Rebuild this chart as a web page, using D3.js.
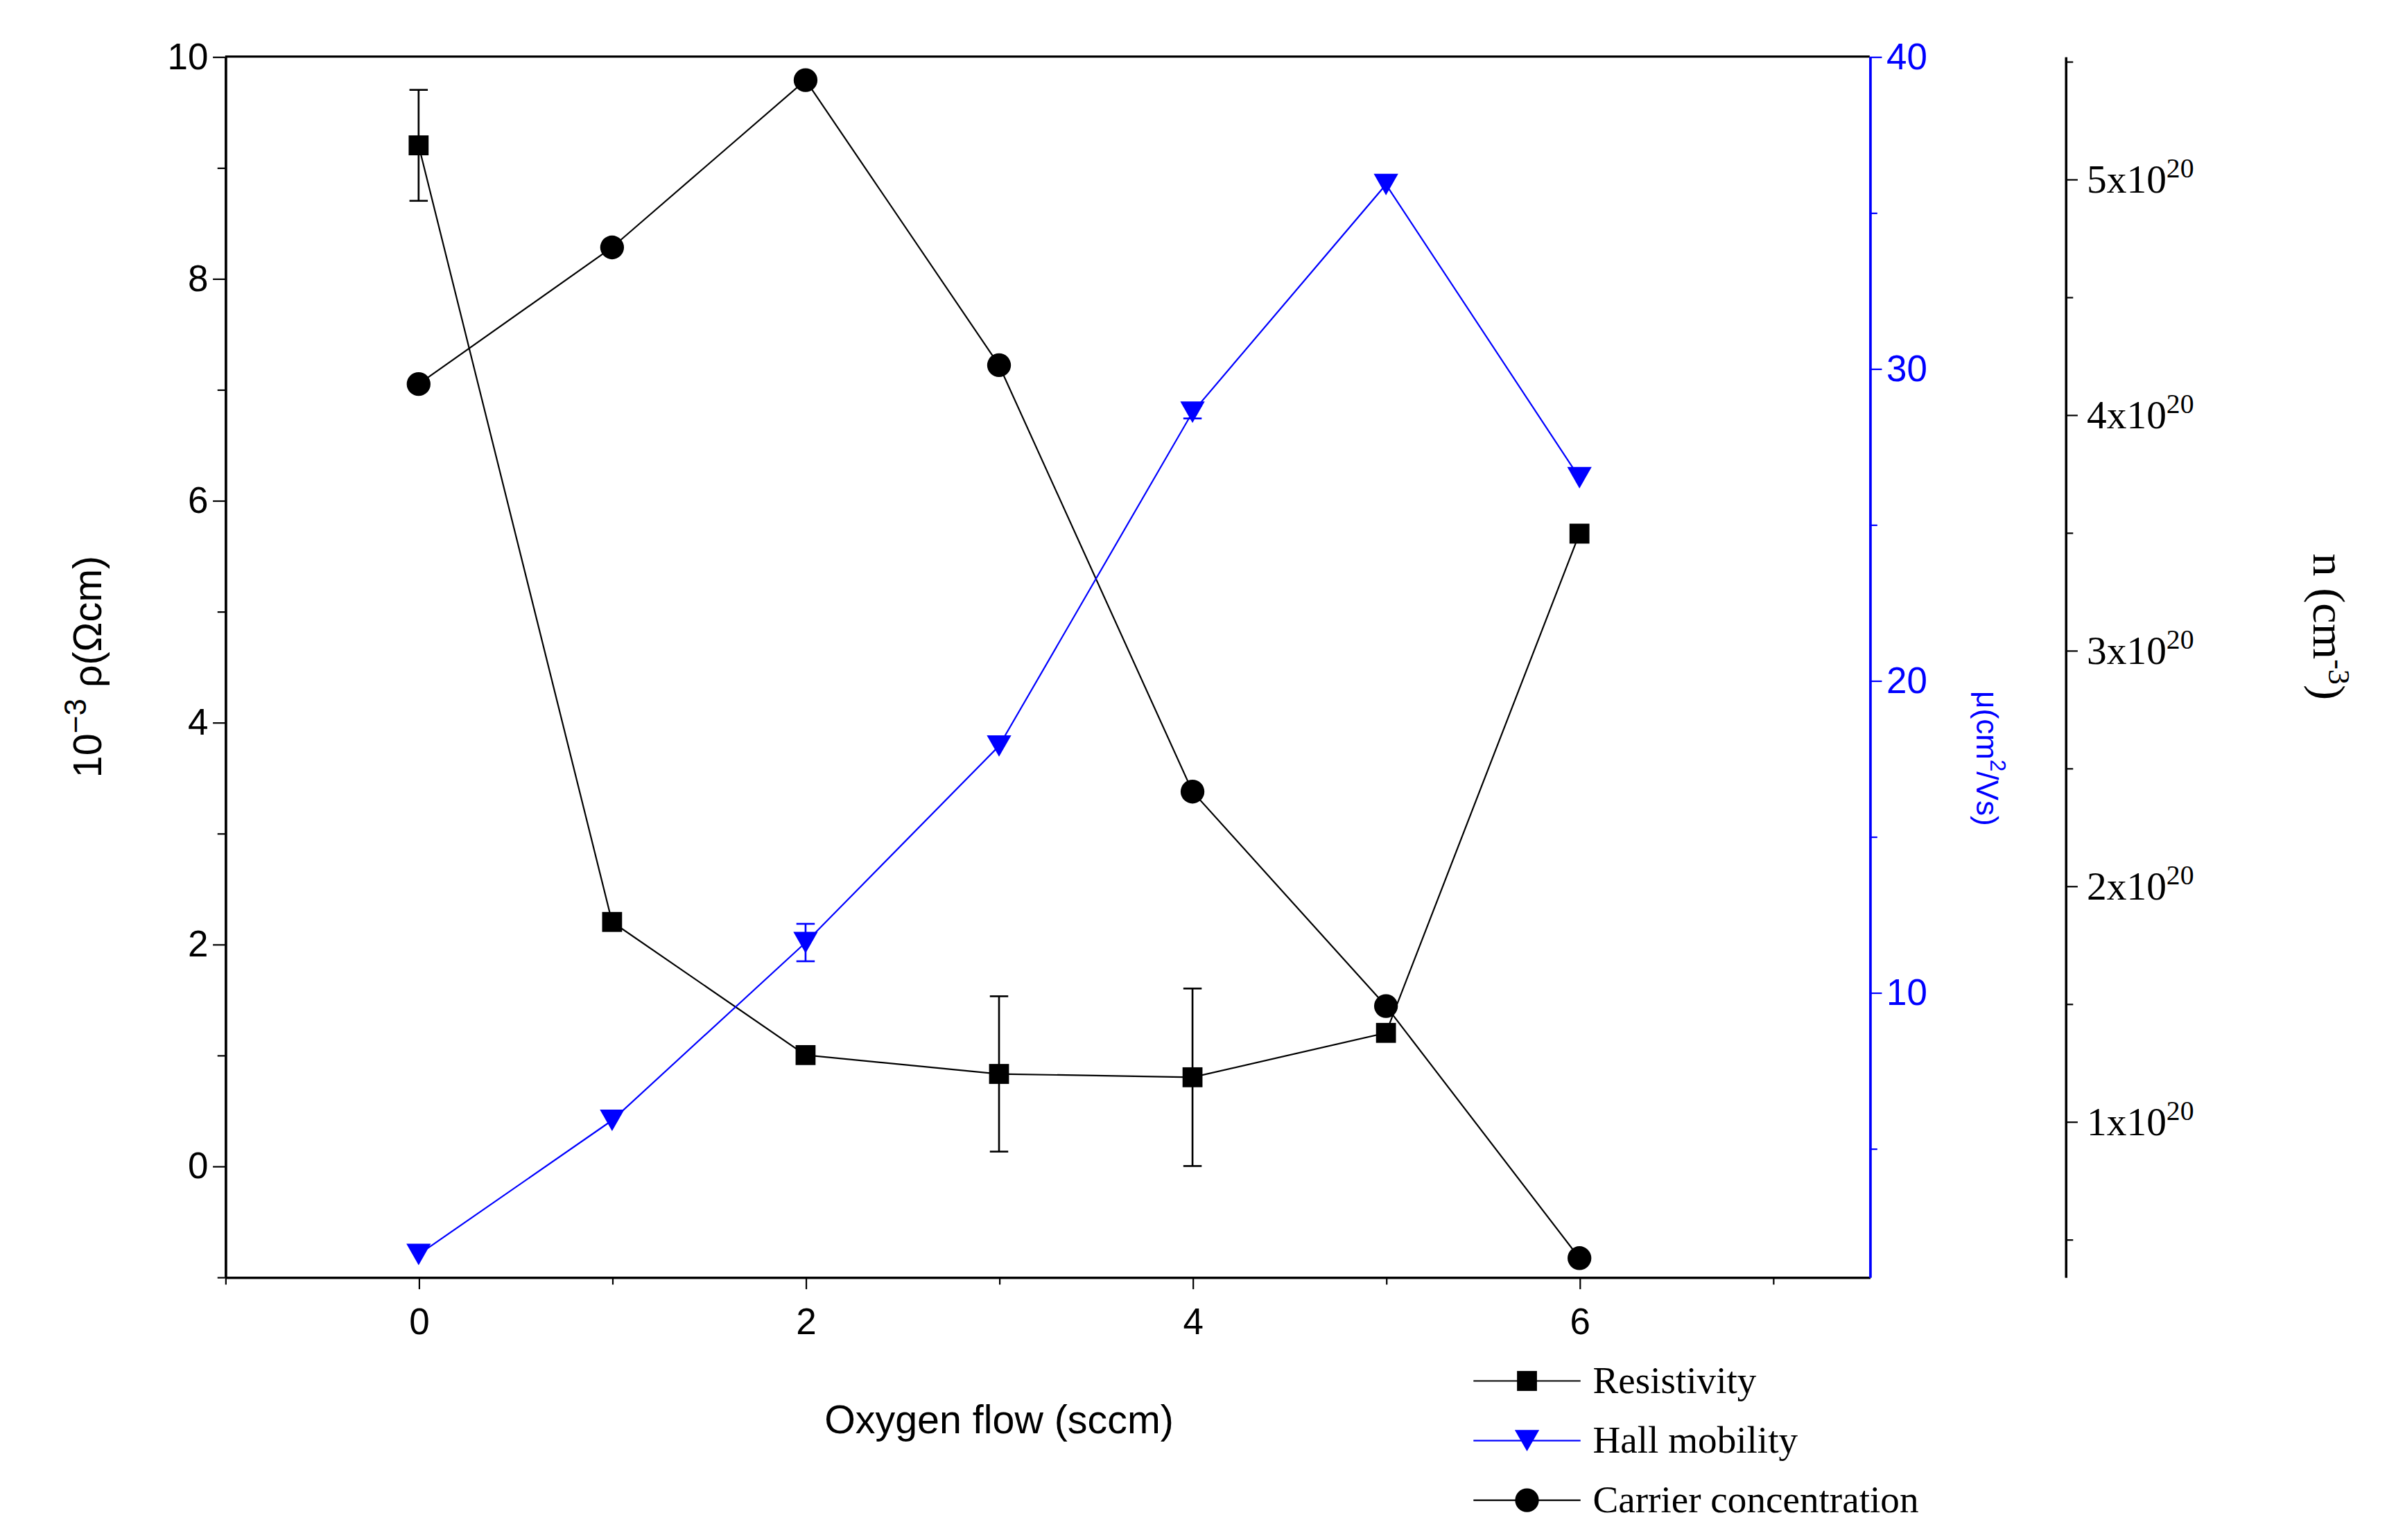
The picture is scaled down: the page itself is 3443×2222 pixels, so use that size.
<!DOCTYPE html>
<html><head><meta charset="utf-8">
<script src="https://cdn.jsdelivr.net/npm/d3@7"></script>
<style>body{margin:0;background:#fff}</style>
</head><body>
<svg id="chart" width="3443" height="2222" viewBox="0 0 1560 1007"></svg>
<script>
const flow         = [0, 1, 2, 3, 4, 5, 6];
const resistivity  = [9.2, 2.2, 1.0, 0.83, 0.8, 1.2, 5.7];
const resErr       = [0.5, 0.05, 0.05, 0.7, 0.8, 0.05, 0.05];
const mobility     = [1.6, 5.9, 11.6, 17.9, 28.6, 35.9, 26.5];
const mobErr       = [0.1, 0.1, 0.6, 0.1, 0.2, 0.1, 0.1];
const carrier      = [4.13, 4.71, 5.42, 4.21, 2.40, 1.49, 0.42]; // x1e20
const xTicks       = [0, 2, 4, 6];
const nTicks       = [1, 2, 3, 4, 5];

function drawChart() {
const svg = d3.select("#chart"),
      pLeft = 147, pRight = 1222, pTop = 37, pBottom = 835, axis3 = 1350,
      x  = d3.scaleLinear().domain([-1, 7.5]).range([pLeft, pRight]),
      y  = d3.scaleLinear().domain([-1, 10]).range([pBottom, pTop]),
      yM = d3.scaleLinear().domain([0.88, 40]).range([pBottom, pTop]),
      yN = d3.scaleLinear().domain([0.34, 5.52]).range([pBottom, pTop]);

const sans = "Liberation Sans, Arial, sans-serif", serif = "Liberation Serif, Times New Roman, serif";

// frame top
svg.append("line").attr("x1", pLeft).attr("x2", pRight).attr("y1", pTop).attr("y2", pTop).attr("stroke", "#000").attr("stroke-width", 1.5);

const gx = svg.append("g").attr("transform", `translate(0,${pBottom})`)
  .call(d3.axisBottom(x).tickValues(xTicks).tickSize(8).tickSizeOuter(0).tickFormat(d3.format("d")));
svg.append("g").attr("transform", `translate(0,${pBottom})`)
  .call(d3.axisBottom(x).tickValues([-1, 1, 3, 5, 7]).tickSize(5).tickFormat("").tickSizeOuter(0));

const gy = svg.append("g").attr("transform", `translate(${pLeft},0)`)
  .call(d3.axisLeft(y).tickValues([0, 2, 4, 6, 8, 10]).tickSize(8).tickSizeOuter(0));
svg.append("g").attr("transform", `translate(${pLeft},0)`)
  .call(d3.axisLeft(y).tickValues([-1, 1, 3, 5, 7, 9]).tickSize(5).tickFormat("").tickSizeOuter(0));

const gm = svg.append("g").attr("transform", `translate(${pRight},0)`)
  .call(d3.axisRight(yM).tickValues([10, 20, 30, 40]).tickSize(8).tickSizeOuter(0));
const gm2 = svg.append("g").attr("transform", `translate(${pRight},0)`)
  .call(d3.axisRight(yM).tickValues([5, 15, 25, 35]).tickSize(5).tickFormat("").tickSizeOuter(0));
[gm, gm2].forEach(g => g.selectAll("path,line").attr("stroke", "#00f"));
gm.selectAll("text").attr("fill", "#00f");

svg.append("g").attr("transform", `translate(${axis3},0)`)
  .call(d3.axisRight(yN).tickValues(nTicks).tickSize(8).tickSizeOuter(0).tickFormat(""));
svg.append("g").attr("transform", `translate(${axis3},0)`)
  .call(d3.axisRight(yN).tickValues([0.5, 1.5, 2.5, 3.5, 4.5, 5.5]).tickSize(5).tickFormat("").tickSizeOuter(0));
nTicks.forEach(t => {
  const tx = svg.append("text").attr("x", axis3 + 14).attr("y", yN(t) + 9)
    .attr("font-family", serif).attr("font-size", 26);
  tx.append("tspan").text(t + "x10");
  tx.append("tspan").attr("dy", -10).attr("font-size", 18).text("20");
});

[gx, gy, gm].forEach(g => g.selectAll("text").attr("font-family", sans).attr("font-size", 24));
gx.selectAll("text").attr("dy", "1.1em");
svg.selectAll("path.domain").attr("stroke-width", 1.5);

// axis titles
svg.append("text").attr("x", x(3)).attr("y", 937).attr("text-anchor", "middle")
  .attr("font-family", sans).attr("font-size", 26).text("Oxygen flow (sccm)");
const ly = svg.append("text").attr("transform", `translate(66,${y(4.5)}) rotate(-90)`).attr("text-anchor", "middle")
  .attr("font-family", sans).attr("font-size", 26);
ly.append("tspan").text("10");
ly.append("tspan").attr("dy", -10).attr("font-size", 20).text("−3");
ly.append("tspan").attr("dy", 10).text(" ρ(Ωcm)");
const lm = svg.append("text").attr("transform", `translate(1292,${yM(17.5)}) rotate(90)`).attr("text-anchor", "middle")
  .attr("font-family", sans).attr("font-size", 20).attr("fill", "#00f");
lm.append("tspan").text("μ(cm");
lm.append("tspan").attr("dy", -9).attr("font-size", 14).text("2");
lm.append("tspan").attr("dy", 9).text("/Vs)");
const ln = svg.append("text").attr("transform", `translate(1512,${yN(3.1)}) rotate(90)`).attr("text-anchor", "middle")
  .attr("font-family", serif).attr("font-size", 30);
ln.append("tspan").text("n (cm");
ln.append("tspan").attr("dy", -10).attr("font-size", 20).text("-3");
ln.append("tspan").attr("dy", 10).text(")");

// series
const line = (ys, vals) => d3.line().x((d, i) => x(flow[i])).y((d, i) => ys(vals[i]))(vals);
function errs(ys, vals, e, col) {
  vals.forEach((v, i) => {
    if (e[i] < 0.15) return;
    const g = svg.append("g").attr("stroke", col).attr("stroke-width", 1.2);
    g.append("line").attr("x1", x(flow[i])).attr("x2", x(flow[i])).attr("y1", ys(v - e[i])).attr("y2", ys(v + e[i]));
    [v - e[i], v + e[i]].forEach(b => g.append("line").attr("x1", x(flow[i]) - 6).attr("x2", x(flow[i]) + 6).attr("y1", ys(b)).attr("y2", ys(b)));
  });
}
svg.append("path").attr("d", line(y, resistivity)).attr("fill", "none").attr("stroke", "#000").attr("stroke-width", 1);
svg.append("path").attr("d", line(yN, carrier)).attr("fill", "none").attr("stroke", "#000").attr("stroke-width", 1);
svg.append("path").attr("d", line(yM, mobility)).attr("fill", "none").attr("stroke", "#00f").attr("stroke-width", 1);
errs(y, resistivity, resErr, "#000");
errs(yM, mobility, mobErr, "#00f");

const sq = d3.symbol().type(d3.symbolSquare).size(170)(),
      ci = d3.symbol().type(d3.symbolCircle).size(190)(),
      tri = "M-8,-7L8,-7L0,7Z";
svg.selectAll(".res").data(resistivity).enter().append("path")
  .attr("transform", (d, i) => `translate(${x(flow[i])},${y(d)})`).attr("d", sq);
svg.selectAll(".car").data(carrier).enter().append("path")
  .attr("transform", (d, i) => `translate(${x(flow[i])},${yN(d)})`).attr("d", ci);
svg.selectAll(".mob").data(mobility).enter().append("path")
  .attr("transform", (d, i) => `translate(${x(flow[i])},${yM(d)})`).attr("d", tri).attr("fill", "#00f");

// legend
const legend = [
  {name: "Resistivity", col: "#000", sym: sq},
  {name: "Hall mobility", col: "#00f", sym: tri},
  {name: "Carrier concentration", col: "#000", sym: ci}
];
legend.forEach((l, i) => {
  const ly2 = 903 + i * 39;
  svg.append("line").attr("x1", 963).attr("x2", 1033).attr("y1", ly2).attr("y2", ly2).attr("stroke", l.col);
  svg.append("path").attr("transform", `translate(998,${ly2})`).attr("d", l.sym).attr("fill", l.col);
  svg.append("text").attr("x", 1041).attr("y", ly2 + 8).attr("font-family", serif).attr("font-size", 25).text(l.name);
});
}
drawChart();
</script>
</body></html>
